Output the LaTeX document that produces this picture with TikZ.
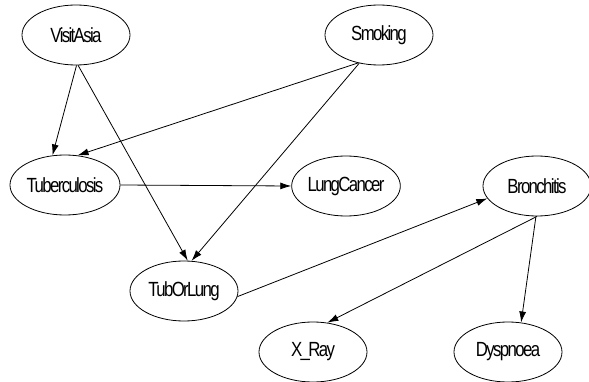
\documentclass[tikz,border=0pt]{standalone}
\usepackage{fontspec}
\setmainfont{Liberation Sans}[FakeStretch=0.82,LetterSpace=-8]
\usetikzlibrary{shapes.geometric,arrows.meta}
\tikzset{
  knoten/.style={draw,ellipse,minimum width=108pt,minimum height=60pt,inner sep=0pt,line width=0.8pt},
  pfeil/.style={->,line width=0.8pt}
}
\begin{document}
\begin{tikzpicture}[x=1pt,y=-1pt,>={Latex[length=11pt,width=7pt]},font=\fontsize{20.5}{20.5}\selectfont]
  \useasboundingbox (0,0) rectangle (589,382);
  % Knoten
  \node[knoten] (visit) at (76,35) {VisitAsia};
  \node[knoten] (smoke) at (379,35) {Smoking};
  \node[knoten,minimum width=110pt] (tub) at (65,185) {Tuberculosis};
  \node[knoten] (lung) at (346,186) {LungCancer};
  \node[knoten] (bronc) at (537,186) {Bronchitis};
  \node[knoten] (either) at (184,291) {TubOrLung};
  \node[knoten] (xray) at (313,352) {X\_Ray};
  \node[knoten] (dysp) at (508,352) {Dyspnoea};

  % Pfeile
  \draw[pfeil] (visit.271) -- (tub.113);
  \draw[pfeil] (visit.274) -- (either.83);
  \draw[pfeil] (smoke.233) -- (tub.67);
  \draw[pfeil] (smoke.235) -- (either.76);
  \draw[pfeil] (tub.0) -- (lung.180);
  \draw[pfeil] (either.354) -- (bronc.194);
  \draw[pfeil] (bronc.270) -- (xray.64);
  \draw[pfeil] (bronc.268) -- (dysp.66);
\end{tikzpicture}
\end{document}
